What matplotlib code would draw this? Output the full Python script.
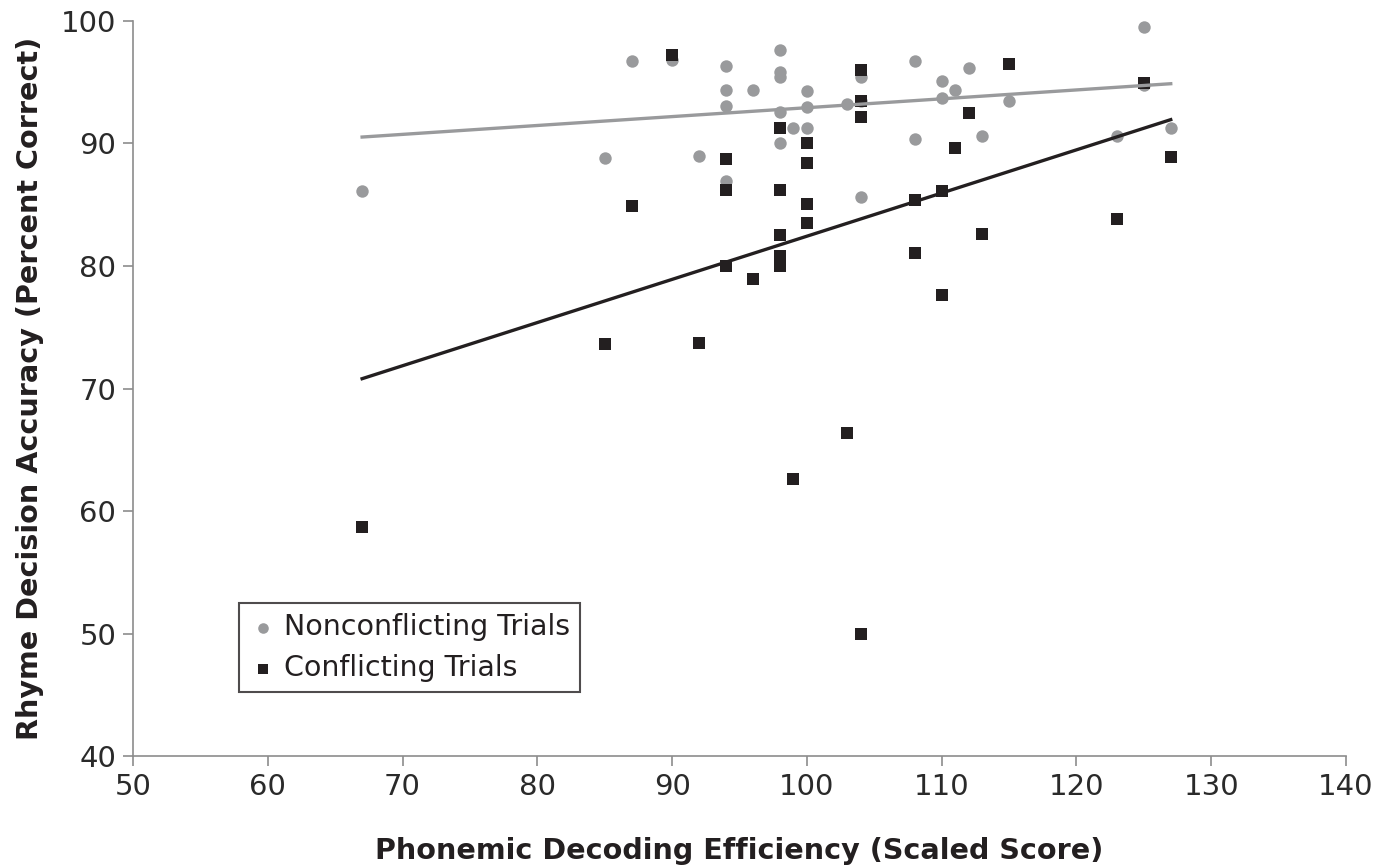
import numpy as np
import matplotlib
matplotlib.use("Agg")
import matplotlib.pyplot as plt

# Nonconflicting trials (gray circles)
nc_x = [67, 85, 87, 90, 92, 94, 94, 94, 94, 96, 98, 98, 98, 98, 98, 99,
        100, 100, 100, 103, 104, 104, 104, 108, 108, 110, 110, 111, 112, 113,
        115, 123, 125, 125, 127]
nc_y = [86.1, 88.8, 96.7, 96.8, 89.0, 96.3, 94.4, 93.1, 86.9, 94.4, 97.6, 95.8,
        95.4, 92.6, 90.0, 91.3, 94.3, 93.0, 91.3, 93.2, 95.4, 93.5, 85.6, 96.7,
        90.4, 95.1, 93.7, 94.4, 96.2, 90.6, 93.5, 90.6, 99.5, 94.8, 91.3]

# Conflicting trials (black squares)
c_x = [67, 85, 87, 90, 92, 94, 94, 94, 96, 98, 98, 98, 98, 98, 99,
       100, 100, 100, 100, 103, 104, 104, 104, 104, 108, 108, 110, 110, 111,
       112, 113, 115, 123, 125, 127]
c_y = [58.7, 73.6, 84.9, 97.2, 73.7, 88.7, 86.2, 80.0, 78.9, 91.3, 86.2, 82.5,
       80.8, 80.0, 62.6, 90.0, 88.4, 85.1, 83.5, 66.4, 96.0, 93.5, 92.2, 50.0,
       85.4, 81.1, 86.1, 77.6, 89.6, 92.5, 82.6, 96.5, 83.8, 94.9, 88.9]

gray = "#999a9c"
black = "#231f20"
axis_gray = "#8c8c8c"

plt.rcParams['font.family'] = ['DejaVu Sans']

fig = plt.figure(figsize=(13.84, 8.67), dpi=100)
ax = fig.add_axes([0.0961, 0.128, 0.8764, 0.8478])

ax.scatter(nc_x, nc_y, marker='o', s=80, color=gray, linewidths=0, zorder=3,
           label="Nonconflicting Trials")
ax.scatter(c_x, c_y, marker='s', s=80, color=black, linewidths=0, zorder=4,
           label="Conflicting Trials")

# linear trend lines over the data range
for xs, ys, col in [(nc_x, nc_y, gray), (c_x, c_y, black)]:
    k, b = np.polyfit(xs, ys, 1)
    xx = np.array([min(xs), max(xs)])
    ax.plot(xx, k * xx + b, color=col, linewidth=2.4, zorder=5)

ax.set_xlim(50, 140)
ax.set_ylim(40, 100)
ax.set_xticks(np.arange(50, 141, 10))
ax.set_yticks(np.arange(40, 101, 10))

for side in ['top', 'right']:
    ax.spines[side].set_visible(False)
for side in ['left', 'bottom']:
    ax.spines[side].set_color(axis_gray)
    ax.spines[side].set_linewidth(1.2)
ax.tick_params(axis='both', direction='out', length=7, width=1.2, color=axis_gray,
               labelsize=21, labelcolor="#2a2a2a", pad=5)

ax.set_xlabel("Phonemic Decoding Efficiency (Scaled Score)", fontsize=20.6,
              fontweight='bold', color=black, labelpad=26)
ax.set_ylabel("Rhyme Decision Accuracy (Percent Correct)", fontsize=20.6,
              fontweight='bold', color=black, labelpad=12)

leg = ax.legend(loc='lower left', bbox_to_anchor=(0.087, 0.087), fontsize=20.5,
                frameon=True, fancybox=False, handletextpad=0.25,
                handlelength=1.0, borderpad=0.35, labelspacing=0.45,
                borderaxespad=0, markerscale=0.85)
leg.get_frame().set_edgecolor(black)
leg.get_frame().set_linewidth(1.5)
for t in leg.get_texts():
    t.set_color(black)

fig.savefig("out.png", dpi=100)
